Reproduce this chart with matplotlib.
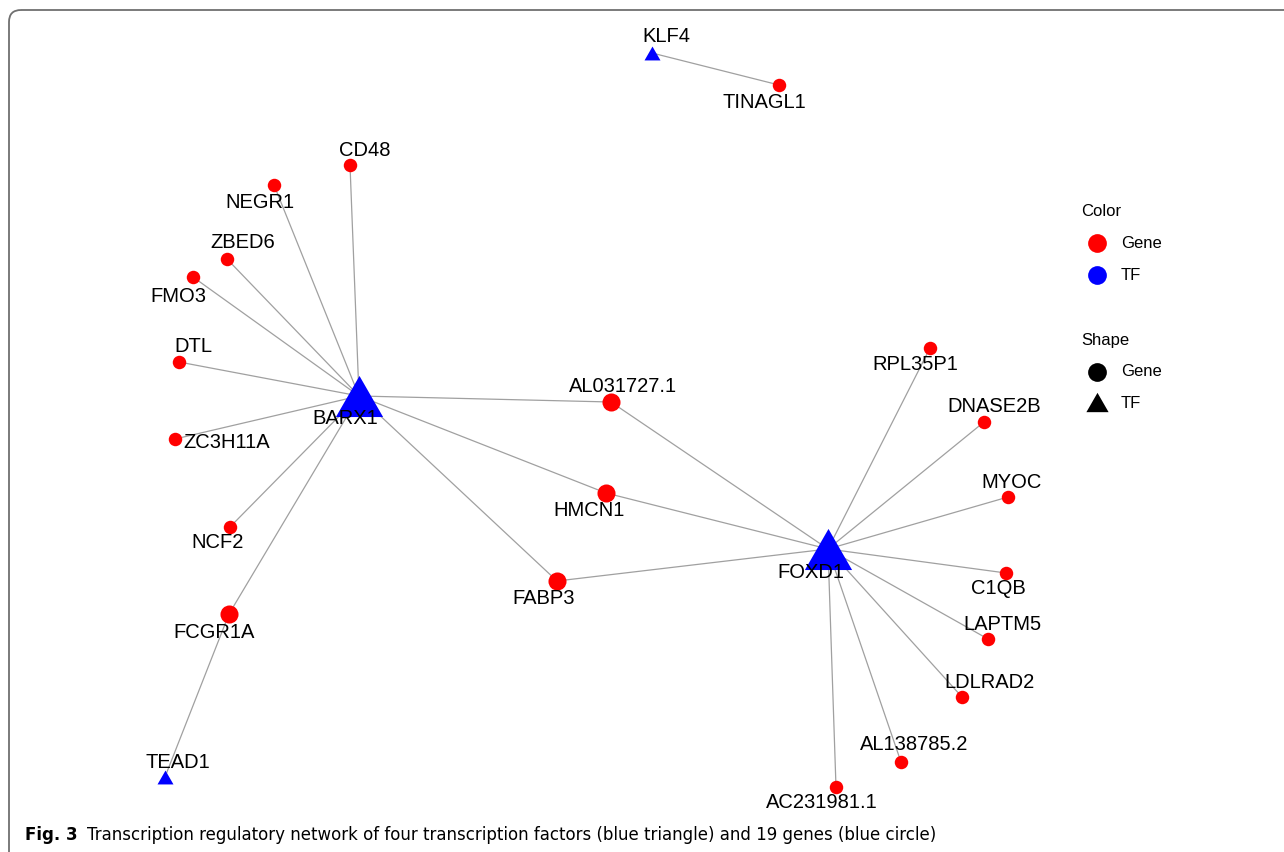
import matplotlib
matplotlib.use('Agg')
import matplotlib.pyplot as plt
from matplotlib.patches import FancyBboxPatch

## 节点数据: 名称, 类型, 位置(像素), 标签位置
names = ['KLF4', 'TINAGL1', 'CD48', 'NEGR1', 'ZBED6', 'FMO3', 'DTL', 'BARX1',
         'ZC3H11A', 'NCF2', 'FCGR1A', 'TEAD1', 'AL031727.1', 'HMCN1', 'FABP3',
         'FOXD1', 'RPL35P1', 'DNASE2B', 'MYOC', 'C1QB', 'LAPTM5', 'LDLRAD2',
         'AL138785.2', 'AC231981.1']
kinds = ['TF', 'Gene', 'Gene', 'Gene', 'Gene', 'Gene', 'Gene', 'TF',
         'Gene', 'Gene', 'Gene', 'TF', 'Gene', 'Gene', 'Gene',
         'TF', 'Gene', 'Gene', 'Gene', 'Gene', 'Gene', 'Gene',
         'Gene', 'Gene']
node_x = [652, 779, 350, 274, 227, 193, 179, 359,
          175, 230, 229, 165, 611, 606, 557,
          828, 930, 984, 1008, 1006, 988, 962,
          901, 836]
node_y = [53, 85, 165, 185, 259, 277, 362, 396,
          439, 527, 614, 777, 402, 493, 581,
          549, 348, 422, 497, 573, 639, 697,
          762, 787]
label_x = [666, 764, 365, 260, 243, 178, 193, 345,
           227, 218, 214, 178, 623, 589, 544,
           811, 915, 994, 1012, 998, 1002, 990,
           914, 822]
label_y = [37, 102, 150, 202, 243, 296, 346, 419,
           442, 543, 632, 763, 387, 510, 598,
           572, 364, 407, 483, 589, 624, 682,
           745, 803]
edges = [('KLF4', 'TINAGL1'),
         ('BARX1', 'CD48'), ('BARX1', 'NEGR1'), ('BARX1', 'ZBED6'),
         ('BARX1', 'FMO3'), ('BARX1', 'DTL'), ('BARX1', 'ZC3H11A'),
         ('BARX1', 'NCF2'), ('BARX1', 'FCGR1A'), ('TEAD1', 'FCGR1A'),
         ('BARX1', 'AL031727.1'), ('BARX1', 'HMCN1'), ('BARX1', 'FABP3'),
         ('FOXD1', 'AL031727.1'), ('FOXD1', 'HMCN1'), ('FOXD1', 'FABP3'),
         ('FOXD1', 'RPL35P1'), ('FOXD1', 'DNASE2B'), ('FOXD1', 'MYOC'),
         ('FOXD1', 'C1QB'), ('FOXD1', 'LAPTM5'), ('FOXD1', 'LDLRAD2'),
         ('FOXD1', 'AL138785.2'), ('FOXD1', 'AC231981.1')]

tri = [(0, 0.87), (-1, -0.87), (1, -0.87)]   # 向上三角形标记

fig = plt.figure(figsize=(12.84, 8.52), dpi=100)
ax = fig.add_axes([0, 0, 1, 1])
ax.set_xlim(0, 1284)
ax.set_ylim(852, 0)
ax.axis('off')

idx = {n: i for i, n in enumerate(names)}
deg = {n: 0 for n in names}
for a, b in edges:
    deg[a] += 1
    deg[b] += 1
    ax.plot([node_x[idx[a]], node_x[idx[b]]], [node_y[idx[a]], node_y[idx[b]]],
            color='#a0a0a0', lw=0.9, zorder=1)

for i, n in enumerate(names):
    if kinds[i] == 'TF':
        size = 34 if deg[n] > 3 else 11.5
        ax.plot(node_x[i], node_y[i], marker=tri, ms=size, color='#0000ff',
                mec='none', zorder=2)
    else:
        size = 13 if deg[n] > 1 else 9.7
        ax.plot(node_x[i], node_y[i], marker='o', ms=size, color='#ff0000',
                mec='none', zorder=2)
    ax.text(label_x[i], label_y[i], n, ha='center', va='center',
            fontsize=14.5, family='Liberation Sans', zorder=3)

# 图例
lg = dict(fontsize=12, family='Liberation Sans', va='center', ha='left')
ax.text(1081, 211, 'Color', **lg)
ax.plot(1097, 243, 'o', ms=13.5, color='#ff0000', mec='none')
ax.text(1121, 243, 'Gene', **lg)
ax.plot(1097, 275, 'o', ms=13.5, color='#0000ff', mec='none')
ax.text(1121, 275, 'TF', **lg)
ax.text(1081, 340, 'Shape', **lg)
ax.plot(1097, 372, 'o', ms=13.5, color='black', mec='none')
ax.text(1121, 372, 'Gene', **lg)
ax.plot(1097, 402, marker=tri, ms=16, color='black', mec='none')
ax.text(1121, 403, 'TF', **lg)

# 边框和图注
box = FancyBboxPatch((9, 10), 1320, 880, boxstyle='round,pad=0,rounding_size=12',
                     fc='none', ec='#707070', lw=1.3, zorder=0)
ax.add_patch(box)
ax.text(25, 835, 'Fig. 3', fontsize=12, fontweight='bold', family='DejaVu Sans',
        va='center', ha='left')
ax.text(87, 835, 'Transcription regulatory network of four transcription factors '
        '(blue triangle) and 19 genes (blue circle)', fontsize=12,
        family='DejaVu Sans', va='center', ha='left')

fig.savefig('out.png', dpi=100)
